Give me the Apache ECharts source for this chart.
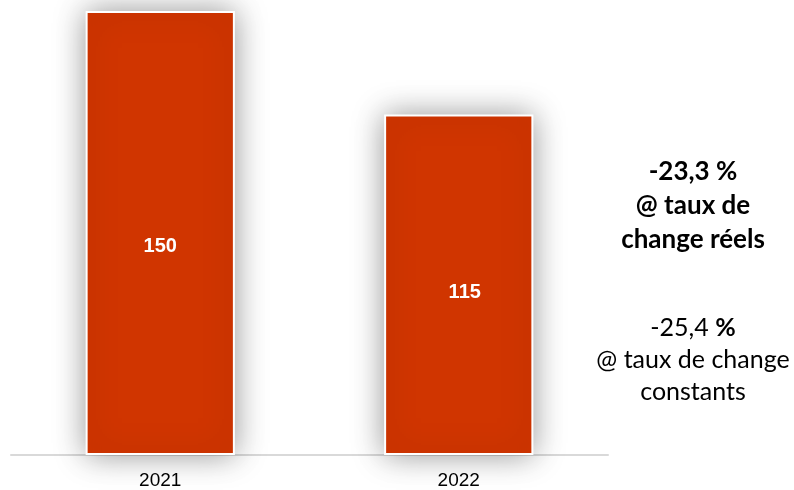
<!DOCTYPE html>
<html>
<head>
<meta charset="utf-8">
<script src="https://cdn.jsdelivr.net/npm/echarts@6/dist/echarts.min.js"></script>
<style>html,body{margin:0;padding:0;background:#fff;}#c{width:794px;height:490px;}</style>
</head>
<body>
<div id="c"></div>
<script>
const categories = ['2021', '2022'];
const values = [150, 115];
const noteBold = ['-23,3 %', '@ taux de', 'change réels'];
const noteRegular = ['-25,4 %', '@ taux de change', 'constants'];

const labelOffsets = [[0, 13], [6, 8]];
const noteFont = 'Lato, Noto Sans, sans-serif';

const chart = echarts.init(document.getElementById('c'), null, {renderer: 'canvas'});
chart.setOption({
  animation: false,
  backgroundColor: '#fff',
  grid: {left: 11, right: 186, top: 11, bottom: 35},
  xAxis: {
    type: 'category',
    data: categories,
    axisLine: {show: true, lineStyle: {color: '#d9d9d9', width: 2}},
    axisTick: {show: false},
    axisLabel: {color: '#000', fontSize: 19, fontFamily: 'Liberation Sans, Arial', margin: 16}
  },
  yAxis: {type: 'value', min: 0, max: 150, show: false, splitLine: {show: false}},
  series: [{
    type: 'bar',
    data: values.map((v, i) => ({value: v, label: {offset: labelOffsets[i]}})),
    barWidth: '50%',
    itemStyle: {
      color: '#D03500',
      borderColor: '#fff',
      borderWidth: 2,
      shadowBlur: 30,
      shadowColor: 'rgba(0,0,0,0.4)'
    },
    label: {
      show: true,
      position: 'inside',
      color: '#fff',
      fontWeight: 'bold',
      fontSize: 20,
      fontFamily: 'Liberation Sans, Arial'
    }
  }],
  graphic: [
    {
      type: 'text', x: 693, y: 155,
      style: {
        text: noteBold.join('\n'),
        textAlign: 'center', textVerticalAlign: 'top',
        fontSize: 26, fontWeight: 'bold', lineHeight: 34,
        fontFamily: noteFont, fill: '#000'
      }
    },
    {
      type: 'text', x: 693, y: 312,
      style: {
        rich: {b: {fontWeight: 'bold', fontSize: 25, fontFamily: noteFont, lineHeight: 32}},
        text: '-25,4 {b|%}\n' + noteRegular[1] + '\n' + noteRegular[2],
        textAlign: 'center', textVerticalAlign: 'top',
        fontSize: 25, lineHeight: 32,
        fontFamily: noteFont, fill: '#000'
      }
    }
  ]
});
</script>
</body>
</html>
